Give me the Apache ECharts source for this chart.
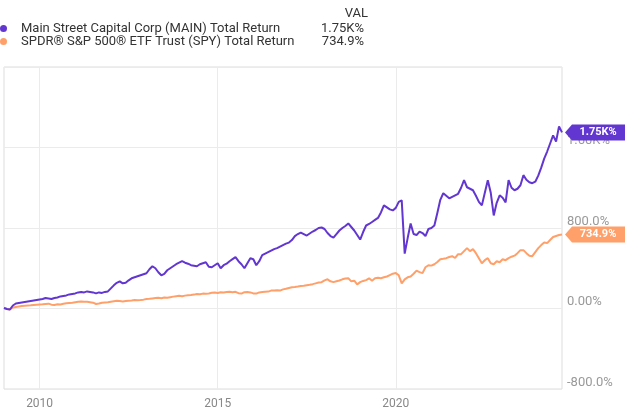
<!DOCTYPE html>
<html lang="en">
<head>
<meta charset="UTF-8">
<title>MAIN vs SPY Total Return</title>
<style>
  body { margin: 0; background: #fff; }
  #chart { width: 640px; height: 418px; }
</style>
</head>
<body>
<div id="chart"></div>
<script src="https://cdn.jsdelivr.net/npm/echarts@6/dist/echarts.min.js"></script>
<script>
// monthly points, Jan 2009 .. Sep 2024
const startYear = 2009;
const labelYears = [2010, 2015, 2020];
const yTicks = [-800, 0, 800, 1600];
const seriesNames = ['Main Street Capital Corp (MAIN) Total Return', 'SPDR® S&P 500® ETF Trust (SPY) Total Return'];
const lastLabels = ['1.75K%', '734.9%'];

const mainVals = [
  5, -5, -10, 30, 50, 55, 60, 65, 70, 75, 80, 85,
  90, 95, 105, 100, 95, 105, 110, 120, 125, 130, 140, 145,
  150, 160, 165, 160, 170, 165, 160, 150, 160, 155, 165, 170,
  200, 230, 255, 270, 250, 255, 280, 300, 310, 320, 330, 340,
  350, 390, 420, 400, 360, 330, 345, 380, 400, 420, 440, 455,
  470, 455, 445, 430, 425, 420, 440, 450, 460, 415, 410, 430,
  450, 400, 430, 445, 470, 490, 510, 470, 440, 400, 450, 500,
  490, 430, 470, 530, 545, 560, 575, 590, 600, 615, 630, 645,
  655, 680, 720, 740, 755, 740, 725, 745, 765, 780, 800, 805,
  790, 750, 720, 705, 740, 775, 800, 820, 845, 810, 775, 730,
  685, 760, 825, 840, 860, 880, 900, 955, 1025, 1005, 985, 975,
  1000, 1060, 1075, 545, 700, 845, 740, 730, 765, 750, 720, 790,
  800, 825, 950, 1080, 1145, 1120, 1095, 1110, 1125, 1140, 1200, 1275,
  1205, 1190, 1175, 1120, 1060, 1025, 1150, 1275, 1150, 925, 1050, 1125,
  1100, 1055, 1275, 1200, 1175, 1190, 1225, 1325, 1280, 1255, 1245, 1260,
  1320, 1400, 1490, 1560, 1640, 1720, 1660, 1810, 1750
];

const spyVals = [
  5, -5, -10, 10, 15, 20, 25, 28, 30, 32, 35, 38,
  40, 42, 45, 48, 38, 35, 42, 40, 48, 52, 55, 58,
  62, 66, 70, 68, 66, 62, 58, 45, 50, 58, 60, 62,
  68, 72, 76, 74, 70, 74, 78, 80, 84, 82, 84, 88,
  94, 96, 100, 104, 106, 102, 110, 106, 112, 118, 122, 126,
  122, 128, 132, 134, 138, 144, 142, 148, 146, 150, 156, 158,
  154, 162, 160, 164, 166, 162, 166, 152, 148, 162, 164, 160,
  150, 148, 160, 164, 166, 168, 178, 180, 182, 178, 190, 196,
  204, 212, 214, 218, 224, 226, 232, 236, 242, 250, 258, 262,
  280, 290, 270, 262, 270, 278, 290, 298, 300, 270, 276, 240,
  262, 274, 282, 300, 276, 300, 306, 300, 310, 318, 332, 346,
  352, 330, 250, 290, 310, 318, 345, 376, 362, 352, 410, 430,
  426, 440, 462, 490, 494, 500, 512, 520, 502, 540, 540, 570,
  600, 570, 590, 550, 500, 450, 480, 500, 450, 440, 470, 460,
  490, 480, 500, 515, 525, 550, 580, 580, 550, 525, 520, 560,
  600, 630, 655, 650, 680, 710, 720, 730, 734.9
];

const colors = ['#6236d0', '#ffa06a'];

const months = mainVals.map((v, i) => {
  const y = startYear + Math.floor(i / 12);
  const m = (i % 12) + 1;
  return y + '-' + (m < 10 ? '0' + m : m);
});

const isLabelMonth = (idx) => months[idx].endsWith('-01') &&
  labelYears.includes(Number(months[idx].slice(0, 4)));

function fmtY(v) {
  if (!yTicks.includes(v)) return '';
  if (Math.abs(v) >= 1000) return (v / 1000).toFixed(2) + 'K%';
  if (v === 0) return '0.00%';
  return v.toFixed(1) + '%';
}

function tag(i, vals) {
  const last = vals.length - 1;
  return {
    silent: true,
    symbol: 'path://M0,8 L7,0 L60,0 L60,16 L7,16 Z',
    symbolSize: [60, 16],
    symbolOffset: [33, 0],
    itemStyle: { color: colors[i] },
    label: {
      show: true, position: 'inside', offset: [3, 0],
      color: '#fff', fontWeight: 'bold', fontSize: 11, fontFamily: 'Roboto',
      formatter: lastLabels[i]
    },
    data: [{ coord: [months[last], vals[last]] }]
  };
}

const chart = echarts.init(document.getElementById('chart'));
chart.setOption({
  animation: false,
  color: colors,
  grid: { left: 4, right: 78, top: 67, bottom: 29, show: true, borderColor: '#dddddd', borderWidth: 1 },
  legend: {
    orient: 'vertical', left: 0, top: 22, padding: 0,
    itemWidth: 25, itemHeight: 7, itemGap: 0, icon: 'circle',
    data: seriesNames,
    formatter: (name) => '{n|' + name + '}{v|' + lastLabels[seriesNames.indexOf(name)] + '}',
    textStyle: {
      fontFamily: 'Roboto', fontSize: 13, color: '#333',
      rich: {
        n: { width: 296, lineHeight: 16, fontSize: 13, color: '#333', fontFamily: 'Roboto' },
        v: { width: 47, align: 'right', lineHeight: 16, fontSize: 13, color: '#333', fontFamily: 'Roboto' }
      }
    }
  },
  graphic: [{
    type: 'text', right: 272, top: 7,
    style: { text: 'VAL', fontSize: 13, fill: '#333', fontFamily: 'Roboto' }
  }],
  xAxis: {
    type: 'category',
    data: months,
    boundaryGap: false,
    axisLine: { show: false },
    axisTick: { show: false },
    axisLabel: {
      interval: (idx) => isLabelMonth(idx),
      formatter: (v) => v.slice(0, 4),
      color: '#888', fontSize: 12, fontFamily: 'Roboto', margin: 9
    },
    splitLine: { show: true, interval: (idx) => isLabelMonth(idx), lineStyle: { color: '#ebebeb' } }
  },
  yAxis: {
    type: 'value',
    position: 'right',
    min: -800, max: 2400, interval: 800,
    axisLine: { show: false },
    axisTick: { show: false },
    axisLabel: {
      formatter: fmtY, color: '#999', fontSize: 13, fontFamily: 'Roboto',
      margin: 5, verticalAlign: 'bottom'
    },
    splitLine: { lineStyle: { color: '#ebebeb' } }
  },
  series: [
    {
      name: seriesNames[0], type: 'line', data: mainVals, showSymbol: false, z: 3,
      lineStyle: { width: 2, color: colors[0] },
      markPoint: tag(0, mainVals)
    },
    {
      name: seriesNames[1], type: 'line', data: spyVals, showSymbol: false, z: 2,
      lineStyle: { width: 2, color: colors[1] },
      markPoint: tag(1, spyVals)
    }
  ]
});
</script>
</body>
</html>
